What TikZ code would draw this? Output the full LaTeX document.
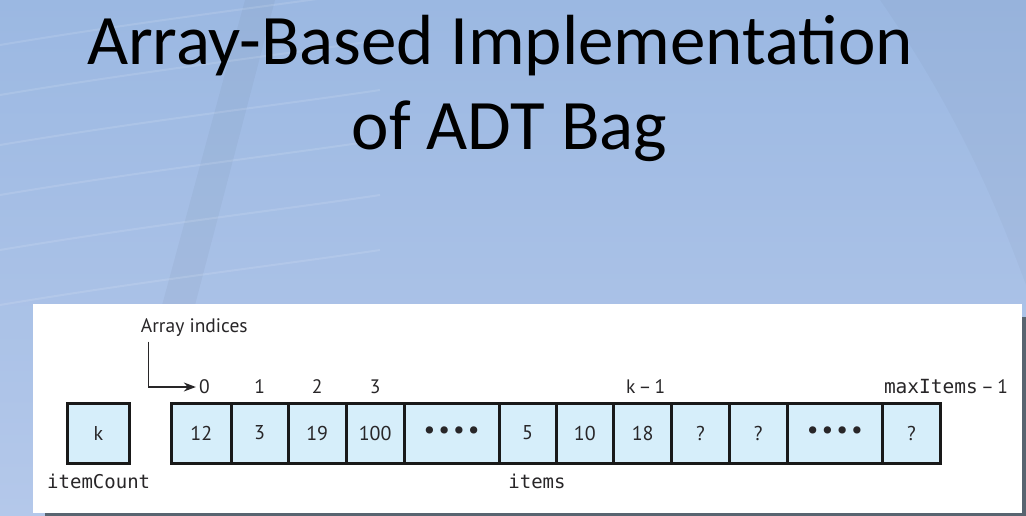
\documentclass[tikz,border=0pt]{standalone}
\usepackage{fontspec}
\setmainfont{Carlito}
\newfontfamily\labfont{PT Sans}
\newfontfamily\monofont{DejaVu Sans Mono}
\usetikzlibrary{arrows.meta,calc}
\definecolor{bgtop}{RGB}{155,184,226}
\definecolor{bgbot}{RGB}{180,200,234}
\definecolor{cellfill}{RGB}{214,238,250}
\definecolor{ink}{RGB}{40,38,40}
\definecolor{shadowgray}{RGB}{88,100,112}
\newcommand\fourdots{{\fontsize{26}{22}\selectfont\textbullet\hspace{3pt}\textbullet\hspace{3pt}\textbullet\hspace{3pt}\textbullet}}
\tikzset{
  cellbox/.style={draw=black!90, line width=3pt, fill=cellfill, minimum height=60pt,
    inner sep=0pt, font=\labfont\fontsize{20}{22}\selectfont, text=ink},
  idxlabel/.style={font=\labfont\fontsize{19.5}{22}\selectfont, text=ink, inner sep=1pt},
  monolabel/.style={font=\monofont\fontsize{19}{22}\selectfont, text=ink, inner sep=1pt},
  titletext/.style={font=\fontsize{71}{85}\selectfont, text=black, inner sep=0pt},
  bgline/.style={white, opacity=0.12, line width=2pt}
}
\begin{document}
\begin{tikzpicture}[x=1pt,y=1pt]
  \useasboundingbox (0,0) rectangle (1026,515);
  % slide background
  \shade[top color=bgtop, bottom color=bgbot] (0,0) rectangle (1026,515);
  % faint building motif
  \fill[black, opacity=0.03] (245,515) -- (275,515) -- (140,0) -- (105,0) -- cycle;
  \foreach \yy in {470,420,370,320,265,210} {
    \draw[bgline] (0,\yy) .. controls (150,\yy+25) and (280,\yy+40) .. (380,\yy+55);
  }
  \fill[black, opacity=0.025] (880,515) .. controls (960,400) and (1000,300) .. (1026,230) -- (1026,515) -- cycle;
  % title
  \node[titletext, anchor=base] (t1) at (500,450) {Array-Based Implementation};
  \node[titletext, anchor=base] (t2) at (509.5,365) {of ADT Bag};
  % figure panel with shadow
  \fill[shadowgray] (45,-5) rectangle (1026,198.3);
  \fill[white] (33,1.7) rectangle (1021.7,211);
  % itemCount box
  \node[cellbox, minimum width=61.6pt] (cnt) at (98.5,82) {k};
  \node[monolabel] (cntlabel) at (98.7,33.3) {itemCount};
  % array cells
  \foreach \l/\r/\t [count=\i] in {171.7/231/12, 231/288.3/3, 288.3/346/19, 346/404.3/100,
      404.3/499/\fourdots, 499/556/5, 556/613.7/10, 613.7/671.7/18, 671.7/729.3/?,
      729.3/787.3/?, 787.3/882.3/\fourdots, 882.3/940.7/?} {
    \node[cellbox, minimum width={(\r-\l)*1pt}] (c\i) at ({(\l+\r)/2},82) {\t};
  }
  \node[monolabel] (itemslabel) at (537,33.3) {items};
  % index labels
  \coordinate (idxrow) at (0,128);
  \node[idxlabel, xshift=3pt] (i0) at (c1 |- idxrow) {0};
  \node[idxlabel] (i1) at (c2 |- idxrow) {1};
  \node[idxlabel] (i2) at (c3 |- idxrow) {2};
  \node[idxlabel] (i3) at (c4 |- idxrow) {3};
  \node[idxlabel, xshift=3pt] (ik) at (c8 |- idxrow) {k\,\textendash\,1};
  \node[idxlabel, anchor=west, xshift=2pt] (imax) at (c12.west |- idxrow)
    {{\monofont maxItems}\,\textendash\,1};
  % array indices pointer
  \node[idxlabel] (ai) at (194.3,187) {Array indices};
  \coordinate (arrstart) at (148.3,173.3);
  \draw[ink, line width=1.4pt, -{Stealth[length=12pt,width=9pt]}, shorten >=2pt]
    (arrstart) |- (i0.west);
\end{tikzpicture}
\end{document}
